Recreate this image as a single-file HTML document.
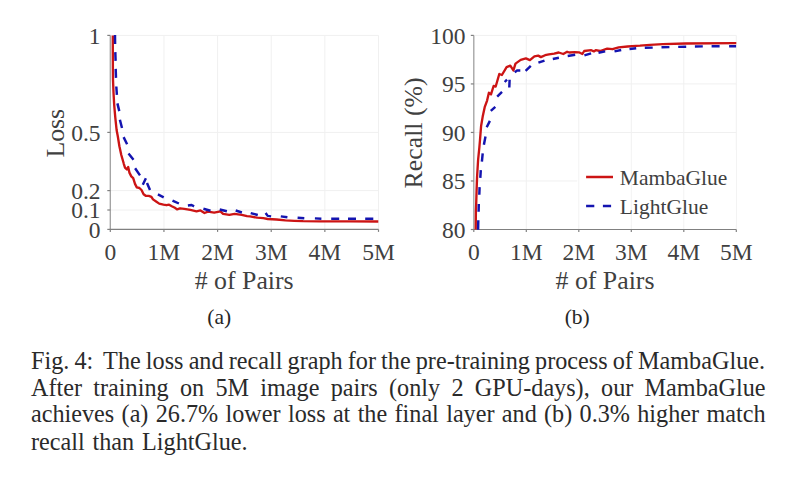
<!DOCTYPE html>
<html><head><meta charset="utf-8"><style>
html,body{margin:0;padding:0;background:#fff;}
body{width:790px;height:479px;position:relative;overflow:hidden;font-family:"Liberation Serif",serif;}
svg{position:absolute;left:0;top:0;}
svg text{font-family:"Liberation Serif",serif;fill:#404040;}
.ln{position:absolute;left:31.0px;font-size:24.2px;line-height:27px;color:#2a2a2a;white-space:nowrap;}
.j{text-align:justify;text-align-last:justify;white-space:normal;}
</style></head><body>
<svg width="790" height="479" viewBox="0 0 790 479">
<line x1="163.94" y1="35.4" x2="163.94" y2="229.4" stroke="#f0f0f0" stroke-width="1"/>
<line x1="217.58" y1="35.4" x2="217.58" y2="229.4" stroke="#f0f0f0" stroke-width="1"/>
<line x1="271.22" y1="35.4" x2="271.22" y2="229.4" stroke="#f0f0f0" stroke-width="1"/>
<line x1="324.86" y1="35.4" x2="324.86" y2="229.4" stroke="#f0f0f0" stroke-width="1"/>
<line x1="378.50" y1="35.4" x2="378.50" y2="229.4" stroke="#f0f0f0" stroke-width="1"/>
<line x1="110.3" y1="210.00" x2="378.5" y2="210.00" stroke="#f0f0f0" stroke-width="1"/>
<line x1="110.3" y1="190.60" x2="378.5" y2="190.60" stroke="#f0f0f0" stroke-width="1"/>
<line x1="110.3" y1="132.40" x2="378.5" y2="132.40" stroke="#f0f0f0" stroke-width="1"/>
<line x1="110.3" y1="35.40" x2="378.5" y2="35.40" stroke="#f0f0f0" stroke-width="1"/>
<line x1="526.30" y1="35.4" x2="526.30" y2="229.5" stroke="#f0f0f0" stroke-width="1"/>
<line x1="578.80" y1="35.4" x2="578.80" y2="229.5" stroke="#f0f0f0" stroke-width="1"/>
<line x1="631.30" y1="35.4" x2="631.30" y2="229.5" stroke="#f0f0f0" stroke-width="1"/>
<line x1="683.80" y1="35.4" x2="683.80" y2="229.5" stroke="#f0f0f0" stroke-width="1"/>
<line x1="736.30" y1="35.4" x2="736.30" y2="229.5" stroke="#f0f0f0" stroke-width="1"/>
<line x1="473.8" y1="180.97" x2="577.5" y2="180.97" stroke="#f0f0f0" stroke-width="1"/>
<line x1="473.8" y1="132.45" x2="736.3" y2="132.45" stroke="#f0f0f0" stroke-width="1"/>
<line x1="473.8" y1="83.93" x2="736.3" y2="83.93" stroke="#f0f0f0" stroke-width="1"/>
<line x1="473.8" y1="35.40" x2="736.3" y2="35.40" stroke="#f0f0f0" stroke-width="1"/>
<line x1="110.3" y1="230.0" x2="110.3" y2="35.4" stroke="#a0a0a0" stroke-width="1.3"/>
<line x1="109.7" y1="229.4" x2="378.5" y2="229.4" stroke="#808080" stroke-width="1.2"/>
<line x1="473.8" y1="230.1" x2="473.8" y2="35.4" stroke="#a0a0a0" stroke-width="1.3"/>
<line x1="473.2" y1="229.5" x2="736.3" y2="229.5" stroke="#808080" stroke-width="1.2"/>
<line x1="110.30" y1="229.4" x2="110.30" y2="231.9" stroke="#808080" stroke-width="1.2"/>
<line x1="473.80" y1="229.5" x2="473.80" y2="232.0" stroke="#808080" stroke-width="1.2"/>
<line x1="163.94" y1="229.4" x2="163.94" y2="231.9" stroke="#808080" stroke-width="1.2"/>
<line x1="526.30" y1="229.5" x2="526.30" y2="232.0" stroke="#808080" stroke-width="1.2"/>
<line x1="217.58" y1="229.4" x2="217.58" y2="231.9" stroke="#808080" stroke-width="1.2"/>
<line x1="578.80" y1="229.5" x2="578.80" y2="232.0" stroke="#808080" stroke-width="1.2"/>
<line x1="271.22" y1="229.4" x2="271.22" y2="231.9" stroke="#808080" stroke-width="1.2"/>
<line x1="631.30" y1="229.5" x2="631.30" y2="232.0" stroke="#808080" stroke-width="1.2"/>
<line x1="324.86" y1="229.4" x2="324.86" y2="231.9" stroke="#808080" stroke-width="1.2"/>
<line x1="683.80" y1="229.5" x2="683.80" y2="232.0" stroke="#808080" stroke-width="1.2"/>
<line x1="378.50" y1="229.4" x2="378.50" y2="231.9" stroke="#808080" stroke-width="1.2"/>
<line x1="736.30" y1="229.5" x2="736.30" y2="232.0" stroke="#808080" stroke-width="1.2"/>
<line x1="107.3" y1="229.40" x2="110.3" y2="229.40" stroke="#808080" stroke-width="1.2"/>
<line x1="107.3" y1="210.00" x2="110.3" y2="210.00" stroke="#808080" stroke-width="1.2"/>
<line x1="107.3" y1="190.60" x2="110.3" y2="190.60" stroke="#808080" stroke-width="1.2"/>
<line x1="107.3" y1="132.40" x2="110.3" y2="132.40" stroke="#808080" stroke-width="1.2"/>
<line x1="107.3" y1="35.40" x2="110.3" y2="35.40" stroke="#808080" stroke-width="1.2"/>
<line x1="470.8" y1="229.50" x2="473.8" y2="229.50" stroke="#808080" stroke-width="1.2"/>
<line x1="470.8" y1="180.97" x2="473.8" y2="180.97" stroke="#808080" stroke-width="1.2"/>
<line x1="470.8" y1="132.45" x2="473.8" y2="132.45" stroke="#808080" stroke-width="1.2"/>
<line x1="470.8" y1="83.93" x2="473.8" y2="83.93" stroke="#808080" stroke-width="1.2"/>
<line x1="470.8" y1="35.40" x2="473.8" y2="35.40" stroke="#808080" stroke-width="1.2"/>
<rect x="577.5" y="150" width="158.5" height="75" fill="#fff"/>
<line x1="578.80" y1="150" x2="578.80" y2="225" stroke="#f3f3f3" stroke-width="1"/>
<line x1="631.30" y1="150" x2="631.30" y2="225" stroke="#f3f3f3" stroke-width="1"/>
<line x1="683.80" y1="150" x2="683.80" y2="225" stroke="#f3f3f3" stroke-width="1"/>
<line x1="586.1" y1="177" x2="613" y2="177" stroke="#cc1414" stroke-width="2.5"/>
<line x1="586.1" y1="206.1" x2="613" y2="206.1" stroke="#1414b0" stroke-width="2.5" stroke-dasharray="8.2 8.6"/>
<path d="M112.8,35.4 L112.8,50.0 L112.9,70.0 L113.0,80.0 L113.5,92.5 L114.2,105.0 L115.3,117.6 L116.6,130.0 L117.8,136.3 L119.4,146.3 L121.3,155.0 L123.8,163.8 L125.0,167.6 L126.9,169.5 L128.2,167.0 L129.4,172.6 L131.3,176.4 L133.2,178.2 L135.0,183.9 L136.8,187.4 L139.4,188.0 L141.5,190.0 L143.6,194.2 L145.7,195.8 L148.8,195.8 L151.4,196.8 L153.0,199.4 L156.1,201.5 L159.2,203.6 L163.4,204.7 L166.5,205.2 L169.1,204.7 L171.8,206.2 L174.9,207.8 L177.0,209.4 L180.1,208.3 L184.3,208.8 L190.3,209.9 L196.5,211.3 L200.5,210.4 L204.5,213.0 L208.0,211.7 L214.2,212.6 L220.4,211.3 L223.1,213.9 L229.3,214.8 L234.6,213.9 L241.7,214.8 L247.0,216.1 L250.0,216.4 L257.1,217.7 L263.3,218.2 L267.7,219.0 L276.6,219.5 L285.4,220.4 L294.3,220.8 L303.1,221.1 L320.0,221.3 L350.0,221.4 L378.3,221.5" fill="none" stroke="#cc1414" stroke-width="2.35" stroke-linejoin="round"/>
<path d="M115.0,35.0 L115.1,44.0 M115.3,52.1 L115.6,60.9 M115.7,68.9 L116.0,77.9 M116.3,86.5 L116.9,94.8 M117.4,103.4 L119.3,111.1 M119.9,119.7 L122.0,128.0 M123.6,137.1 L127.1,144.2 M128.5,153.4 L133.5,159.8 M135.1,168.3 L140.0,175.4 M142.8,184.7 L145.9,178.2 M147.0,182.9 L150.0,189.9 M157.9,194.3 L163.7,197.3 M172.5,200.6 L178.9,203.5 M187.9,205.5 L191.6,205.0 L194.1,206.3 M203.4,208.7 L210.5,210.7 M219.7,209.5 L226.9,211.3 M235.7,210.5 L241.9,212.5 M250.7,213.1 L257.8,215.0 M265.6,213.0 L267.7,215.9 L271.1,216.4 M280.8,216.4 L287.4,217.3 M297.6,217.7 L304.3,218.2 M314.9,218.4 L321.4,218.7 M331.2,218.7 L339.2,218.7 M348.0,218.7 L356.0,218.7 M365.2,218.7 L373.3,218.7" fill="none" stroke="#1414b0" stroke-width="2.45" stroke-linejoin="round"/>
<path d="M475.7,229.5 L475.9,210.0 L476.2,203.8 L476.6,190.0 L477.1,176.2 L478.1,160.0 L479.4,147.0 L480.0,140.0 L481.1,126.0 L482.7,116.6 L484.7,107.2 L487.1,100.6 L488.9,92.8 L491.0,94.4 L493.6,86.0 L495.7,86.5 L499.3,74.0 L501.9,75.0 L506.6,67.2 L510.3,65.7 L513.4,70.4 L515.5,63.6 L520.7,59.9 L525.9,58.4 L529.9,60.1 L534.4,56.3 L538.2,55.6 L540.9,57.1 L545.1,55.2 L548.9,54.4 L554.2,53.7 L558.7,52.5 L563.3,54.0 L567.1,51.8 L569.4,52.5 L574.7,52.1 L578.9,52.3 L582.4,54.0 L584.2,51.0 L591.3,50.2 L593.9,51.4 L595.7,50.2 L600.1,51.0 L607.2,48.7 L612.5,49.2 L618.7,47.4 L627.6,46.5 L632.0,46.1 L640.0,45.7 L650.0,44.9 L662.8,44.2 L685.6,43.5 L736.3,43.2" fill="none" stroke="#cc1414" stroke-width="2.35" stroke-linejoin="round"/>
<path d="M478.1,229.8 L478.3,220.2 M478.6,211.7 L478.8,204.0 M479.3,194.8 L479.6,187.1 M480.3,177.9 L480.8,170.2 M481.9,161.7 L482.7,153.4 M483.9,144.8 L485.5,136.6 M486.7,127.3 L489.9,120.9 M490.8,110.9 L495.3,106.8 M497.2,96.6 L502.0,91.8 M504.7,82.0 L507.0,79.7 M509.6,79.8 L509.3,87.5 M514.8,72.4 L517.1,70.4 L520.3,70.4 M525.6,70.8 L530.8,65.9 M538.4,62.7 L544.5,60.6 M552.8,59.0 L558.9,57.8 M567.7,56.0 L575.2,54.8 M584.4,55.3 L591.1,53.3 M598.5,52.7 L605.2,51.4 M614.5,51.4 L621.2,50.0 M629.5,49.0 L636.2,48.3 M644.8,47.8 L652.7,47.6 M661.5,47.3 L669.4,47.1 M678.2,46.9 L686.2,46.7 M694.9,46.5 L702.8,46.4 M711.6,46.3 L719.6,46.3 M729.1,46.3 L736.1,46.3" fill="none" stroke="#1414b0" stroke-width="2.45" stroke-linejoin="round"/>
<text x="110.30" y="259.80" text-anchor="middle" font-size="23.5" >0</text>
<text x="473.80" y="259.80" text-anchor="middle" font-size="23.5" >0</text>
<text x="163.94" y="259.80" text-anchor="middle" font-size="23.5" >1M</text>
<text x="526.30" y="259.80" text-anchor="middle" font-size="23.5" >1M</text>
<text x="217.58" y="259.80" text-anchor="middle" font-size="23.5" >2M</text>
<text x="578.80" y="259.80" text-anchor="middle" font-size="23.5" >2M</text>
<text x="271.22" y="259.80" text-anchor="middle" font-size="23.5" >3M</text>
<text x="631.30" y="259.80" text-anchor="middle" font-size="23.5" >3M</text>
<text x="324.86" y="259.80" text-anchor="middle" font-size="23.5" >4M</text>
<text x="683.80" y="259.80" text-anchor="middle" font-size="23.5" >4M</text>
<text x="378.50" y="259.80" text-anchor="middle" font-size="23.5" >5M</text>
<text x="736.30" y="259.80" text-anchor="middle" font-size="23.5" >5M</text>
<text x="100.60" y="237.50" text-anchor="end" font-size="23.5" >0</text>
<text x="100.60" y="218.10" text-anchor="end" font-size="23.5" >0.1</text>
<text x="100.60" y="198.70" text-anchor="end" font-size="23.5" >0.2</text>
<text x="100.60" y="140.50" text-anchor="end" font-size="23.5" >0.5</text>
<text x="100.60" y="43.50" text-anchor="end" font-size="23.5" >1</text>
<text x="465.50" y="237.90" text-anchor="end" font-size="23.5" >80</text>
<text x="465.50" y="189.38" text-anchor="end" font-size="23.5" >85</text>
<text x="465.50" y="140.85" text-anchor="end" font-size="23.5" >90</text>
<text x="465.50" y="92.33" text-anchor="end" font-size="23.5" >95</text>
<text x="465.50" y="43.80" text-anchor="end" font-size="23.5" >100</text>
<text x="244.20" y="288.60" text-anchor="middle" font-size="25.8" ># of Pairs</text>
<text x="605.00" y="288.60" text-anchor="middle" font-size="25.8" ># of Pairs</text>
<text x="64.20" y="133.20" text-anchor="middle" font-size="25.8" transform="rotate(-90 64.2 133.2)">Loss</text>
<text x="422.30" y="132.90" text-anchor="middle" font-size="25.8" transform="rotate(-90 422.3 132.9)">Recall (%)</text>
<text x="619.80" y="184.80" text-anchor="start" font-size="21.5" >MambaGlue</text>
<text x="619.80" y="213.60" text-anchor="start" font-size="21.5" >LightGlue</text>
<text x="219.30" y="324.20" text-anchor="middle" font-size="21.5" style="fill:#262626">(a)</text>
<text x="577.20" y="324.20" text-anchor="middle" font-size="21.5" style="fill:#262626">(b)</text>
</svg>
<div class="ln" style="top:346.55px;word-spacing:-0.907px">Fig. 4:&nbsp; The loss and recall graph for the pre-training process of MambaGlue.</div>
<div class="ln" style="top:373.65px;word-spacing:5.269px">After training on 5M image pairs (only 2 GPU-days), our MambaGlue</div>
<div class="ln" style="top:399.95px;word-spacing:1.270px">achieves (a) 26.7% lower loss at the final layer and (b) 0.3% higher match</div>
<div class="ln" style="top:427.55px;word-spacing:1.8px">recall than LightGlue.</div>
</body></html>
